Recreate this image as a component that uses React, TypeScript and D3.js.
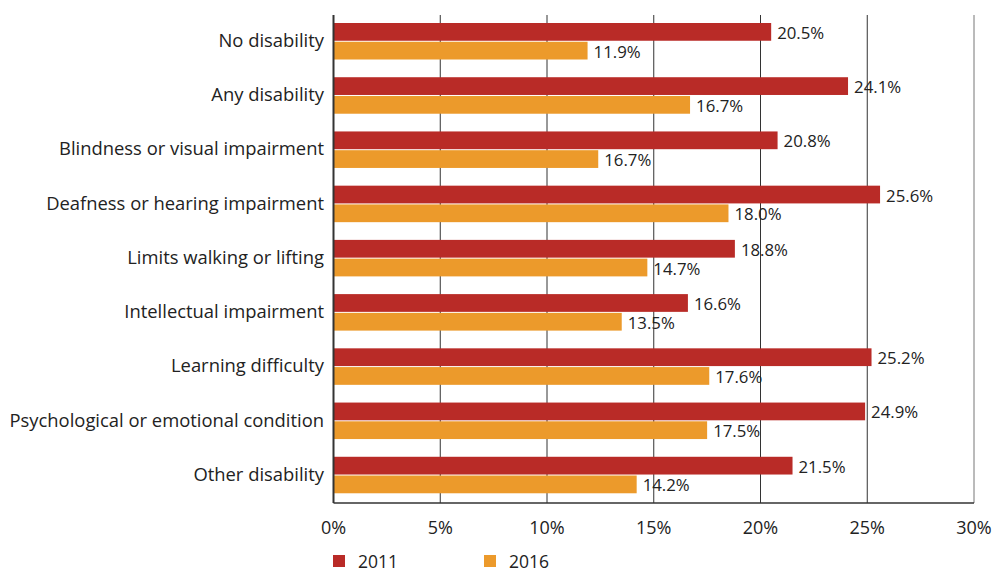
import React, { useEffect } from "react";
import * as d3 from "d3";

const categories = [
  "No disability",
  "Any disability",
  "Blindness or visual impairment",
  "Deafness or hearing impairment",
  "Limits walking or lifting",
  "Intellectual impairment",
  "Learning difficulty",
  "Psychological or emotional condition",
  "Other disability",
];
const seriesNames = ["2011", "2016"];
// bar lengths as drawn in the picture
const values2011 = [20.5, 24.1, 20.8, 25.6, 18.8, 16.6, 25.2, 24.9, 21.5];
const values2016 = [11.9, 16.7, 12.4, 18.5, 14.7, 13.5, 17.6, 17.5, 14.2];
// printed labels
const labels2011 = ["20.5%", "24.1%", "20.8%", "25.6%", "18.8%", "16.6%", "25.2%", "24.9%", "21.5%"];
const labels2016 = ["11.9%", "16.7%", "16.7%", "18.0%", "14.7%", "13.5%", "17.6%", "17.5%", "14.2%"];
const xTicks = [0, 5, 10, 15, 20, 25, 30];
const colors = ["#B92B27", "#EC9A2B"];

const W = 996;
const H = 571;
const FONT = "'Open Sans', 'Noto Sans', sans-serif";

export default function App() {
  useEffect(() => {
    document.body.style.margin = "0";
  }, []);

  const x = d3.scaleLinear().domain([0, 30]).range([333.5, 974]);
  const y = d3.scaleBand<string>().domain(categories).range([15, 503]).padding(0);
  const sub = d3.scaleBand<string>().domain(seriesNames).range([8, 45.5]).padding(0);
  const series = [
    { name: "2011", vals: values2011, labs: labels2011, color: colors[0] },
    { name: "2016", vals: values2016, labs: labels2016, color: colors[1] },
  ];
  const [y0, y1] = y.range();

  return (
    <svg width={W} height={H} style={{ position: "absolute", left: 0, top: 0, background: "#fff" }} fontFamily={FONT}>
      {/* gridlines */}
      {xTicks.slice(1).map((t) => (
        <line key={t} x1={x(t)} x2={x(t)} y1={y0} y2={y1} stroke={t === 30 ? "#777" : "#333"} strokeWidth={1} />
      ))}
      {/* bars */}
      {series.map((s) =>
        categories.map((c, i) => (
          <rect
            key={s.name + c}
            x={x(0)}
            y={(y(c) as number) + (sub(s.name) as number)}
            width={x(s.vals[i]) - x(0)}
            height={sub.bandwidth() - 1}
            fill={s.color}
          />
        ))
      )}
      {/* value labels */}
      {series.map((s) =>
        categories.map((c, i) => (
          <text
            key={"l" + s.name + c}
            x={x(s.vals[i]) + 6}
            y={(y(c) as number) + (sub(s.name) as number) + sub.bandwidth() / 2}
            dominantBaseline="central"
            fontSize={16.8}
            fill="#222"
          >
            {s.labs[i]}
          </text>
        ))
      )}
      {/* axes */}
      <line x1={x(0)} x2={x(30)} y1={y1} y2={y1} stroke="#333" strokeWidth={1.5} />
      <line x1={x(0)} x2={x(0)} y1={y0} y2={y1} stroke="#333" strokeWidth={2} />
      {/* category labels */}
      {categories.map((c) => (
        <text
          key={"c" + c}
          x={324}
          y={(y(c) as number) + 24.5}
          textAnchor="end"
          dominantBaseline="central"
          fontSize={18.4}
          fill="#222"
        >
          {c}
        </text>
      ))}
      {/* tick labels */}
      {xTicks.map((t) => (
        <text key={"t" + t} x={x(t)} y={534} textAnchor="middle" fontSize={18} fill="#222">
          {t + "%"}
        </text>
      ))}
      {/* legend */}
      {series.map((s, i) => (
        <g key={"lg" + s.name} transform={`translate(${333 + i * 151},555)`}>
          <rect x={0} y={0} width={12} height={12} fill={s.color} />
          <text x={25} y={12.5} fontSize={17.5} fill="#222">
            {s.name}
          </text>
        </g>
      ))}
    </svg>
  );
}
